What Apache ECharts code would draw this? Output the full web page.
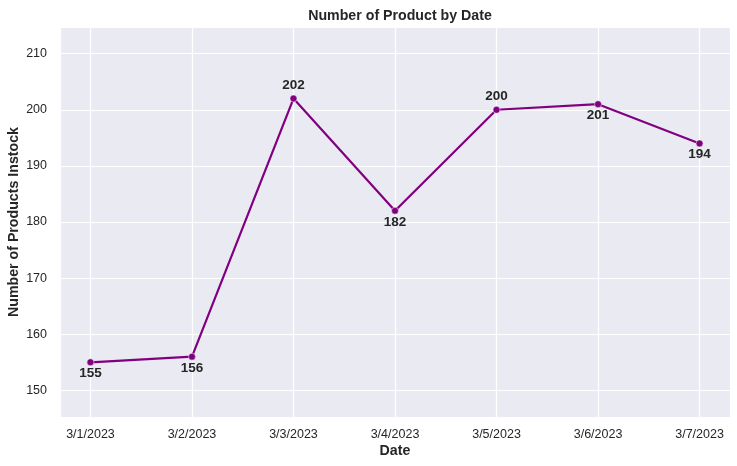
<!DOCTYPE html>
<html>
<head>
<meta charset="utf-8">
<script src="https://cdn.jsdelivr.net/npm/echarts@6/dist/echarts.min.js"></script>
<style>
  html, body { margin: 0; padding: 0; background: #fff; }
  #chart { width: 737px; height: 466px; }
</style>
</head>
<body>
<div id="chart"></div>
<script>
// data
const dates = ['3/1/2023', '3/2/2023', '3/3/2023', '3/4/2023', '3/5/2023', '3/6/2023', '3/7/2023'];
const products = [155, 156, 202, 182, 200, 201, 194];
const labelSide = ['bottom', 'bottom', 'top', 'bottom', 'top', 'bottom', 'bottom'];

const font = 'Liberation Sans, Arial, sans-serif';
const textColor = '#262626';

const chart = echarts.init(document.getElementById('chart'));

const points = products.map((v, i) => ({
  value: [i, v],
  label: { position: labelSide[i], distance: labelSide[i] === 'top' ? 3 : 0.5 }
}));

const option = {
  animation: false,
  backgroundColor: '#fff',
  title: {
    text: 'Number of Product by Date',
    left: 395,
    top: 4,
    textAlign: 'center',
    textStyle: { fontFamily: font, fontSize: 14.2, fontWeight: 'bold', color: textColor }
  },
  grid: {
    left: 60,
    right: 7,
    top: 27,
    bottom: 49,
    containLabel: false,
    outerBoundsMode: 'none',
    show: true,
    backgroundColor: '#EAEAF2',
    borderWidth: 0
  },
  xAxis: {
    type: 'value',
    min: -0.3,
    max: 6.3,
    splitNumber: 7,
    name: 'Date',
    nameLocation: 'middle',
    nameGap: 27,
    nameMoveOverlap: false,
    nameTextStyle: { fontFamily: font, fontSize: 14.2, fontWeight: 'bold', color: textColor },
    axisLine: { show: false },
    axisTick: { show: false },
    axisLabel: {
      fontFamily: font,
      fontSize: 12.5,
      color: textColor,
      margin: 11,
      showMinLabel: false,
      showMaxLabel: false,
      formatter: (v) => {
        const i = Math.round(v);
        return Math.abs(v - i) < 1e-6 && dates[i] ? dates[i] : '';
      }
    },
    splitLine: { show: true, lineStyle: { color: '#fff', width: 1.2 } }
  },
  yAxis: {
    type: 'value',
    min: 145.25,
    max: 214.75,
    splitNumber: 7,
    name: 'Number of Products Instock',
    nameLocation: 'middle',
    nameGap: 39,
    nameMoveOverlap: false,
    nameTextStyle: { fontFamily: font, fontSize: 14.2, fontWeight: 'bold', color: textColor },
    axisLine: { show: false },
    axisTick: { show: false },
    axisLabel: {
      fontFamily: font,
      fontSize: 12.5,
      color: textColor,
      margin: 13,
      showMinLabel: false,
      showMaxLabel: false
    },
    splitLine: { show: true, lineStyle: { color: '#fff', width: 1.2 } }
  },
  series: [{
    type: 'line',
    data: points,
    symbol: 'circle',
    symbolSize: 7,
    showAllSymbol: true,
    lineStyle: { color: '#800080', width: 2.2 },
    itemStyle: { color: '#800080', borderColor: '#fff', borderWidth: 0.5 },
    label: {
      show: true,
      fontFamily: font,
      fontSize: 13.5,
      fontWeight: 'bold',
      color: textColor,
      formatter: (p) => p.value[1]
    }
  }]
};

chart.setOption(option);
</script>
</body>
</html>
